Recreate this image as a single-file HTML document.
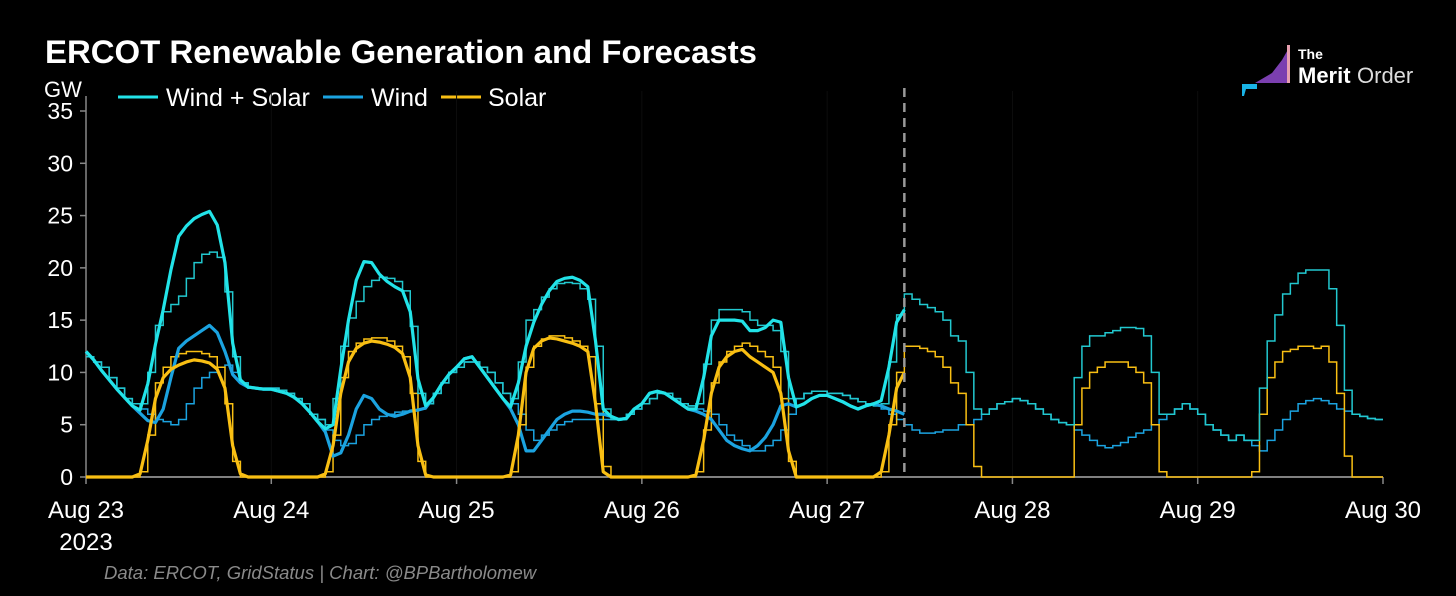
<!DOCTYPE html>
<html><head><meta charset="utf-8"><style>
html,body{margin:0;padding:0;background:#000;}
body{width:1456px;height:596px;overflow:hidden;font-family:"Liberation Sans",sans-serif;}
</style></head><body>
<svg id="chart" width="1456" height="596" xmlns="http://www.w3.org/2000/svg" style="display:block">
<rect width="1456" height="596" fill="#000"/>
<text x="45" y="63" fill="#fff" font-size="32" font-weight="bold" textLength="712" lengthAdjust="spacingAndGlyphs">ERCOT Renewable Generation and Forecasts</text>
<text x="44" y="97" fill="#fff" font-size="22">GW</text>
<g font-size="25" fill="#fff">
 <g><line x1="118" y1="97" x2="158" y2="97" stroke="#22e3e8" stroke-width="3"/><text x="166" y="106">Wind + Solar</text></g>
 <g><line x1="323" y1="97" x2="363" y2="97" stroke="#1ba3e0" stroke-width="3"/><text x="371" y="106">Wind</text></g>
 <g><line x1="441" y1="97" x2="481" y2="97" stroke="#f9bf13" stroke-width="3"/><text x="488" y="106">Solar</text></g>
</g>
<g>
 <polygon points="1255,83 1272,73 1282,60 1290,46 1290,83" fill="#7b3fb0"/>
 <rect x="1287" y="45" width="3" height="38" fill="#e8a0b0"/>
 <polygon points="1242,84 1257,84 1257,89 1246,89 1244,96 1242,96" fill="#19b3e6"/>
 <text x="1298" y="59" fill="#fff" font-size="14" font-weight="bold">The</text>
 <text x="1298" y="83" fill="#fff" font-size="22" font-weight="bold">Merit</text>
 <text x="1357" y="83" fill="#ddd" font-size="22">Order</text>
</g>
<g id="grid"></g>
<g id="axes"></g>
<g id="series"></g>
<text x="104" y="579" fill="#8a8a8a" font-size="18.5" font-style="italic">Data: ERCOT, GridStatus | Chart: @BPBartholomew</text>
</svg>
<script>
const dayLabels=["Aug 23","Aug 24","Aug 25","Aug 26","Aug 27","Aug 28","Aug 29","Aug 30"];
const yTicks=[0,5,10,15,20,25,30,35];
const nowHour=106;
const windActual=[
12,11.2,10.2,9.3,8.4,7.6,6.8,6.1,5.4,5.2,6.5,9.5,12.3,13,13.5,14,14.5,13.8,12,9.8,9,8.6,8.5,8.4,
8.4,8.2,8,7.6,7,6.2,5.3,4.3,2,2.3,4,6.5,7.8,7.5,6.5,6,5.8,6,6.3,6.4,6.6,7.6,8.8,9.8,
10.5,11.3,11.5,10.5,9.5,8.5,7.5,6.5,5,2.5,2.5,3.5,4.5,5.5,6,6.3,6.3,6.2,6,6,5.8,5.5,5.6,6.5,
7,8,8.2,8,7.5,7,6.5,6.3,6,5.5,4.5,3.5,3,2.7,2.5,3,3.8,5,6.8,7,6.7,7,7.5,7.8,
7.8,7.5,7.2,6.8,6.5,6.8,7,6.8,6.5,6.3,6];
const solarActual=[
0,0,0,0,0,0,0,0.3,3.5,7.5,9.5,10.3,10.7,11,11.2,11.1,10.9,10.3,8.5,3,0.3,0,0,0,
0,0,0,0,0,0,0,0.3,3,8,11,12.3,12.8,13,12.9,12.7,12.4,11.8,9.5,3,0.2,0,0,0,
0,0,0,0,0,0,0,0.2,4,10,12.3,13,13.3,13.2,13,12.8,12.5,12,7,0.5,0,0,0,0,
0,0,0,0,0,0,0,0.2,3.5,8,10.5,11.5,12,12.2,11.5,11,10.5,10,8,2.5,0,0,0,0,
0,0,0,0,0,0,0,0.5,4,8.5,10];
const windForecast=[
11.5,11,10.5,9.5,8.5,7.5,7,6.5,6,5.5,5.3,5,5.5,7,8.5,9.5,10,10.5,10.7,10,9,8.5,8.5,8.5,
8.5,8.3,8,7.5,7,6,5.5,4.5,3.5,3,3.2,4,5,5.5,5.8,6,6.2,6.3,6.4,6.5,7,8,9,10,
10.5,11,11,10.5,10,9,8,7,6,4.5,3.5,4,4.5,5,5.3,5.5,5.5,5.5,5.5,5.5,5.5,5.5,6,6.5,
7,7.5,8,8,7.5,7,6.8,6.5,6.3,6,5,4,3.5,3,2.5,2.5,3,3.5,4.5,6,7.5,8,8.2,8.2,
8,8,7.8,7.5,7.2,7,6.8,6.5,6,5.5,5,4.5,4.2,4.2,4.3,4.5,4.5,5,5,5.5,6,6.5,7,7.2,
7.5,7.3,7,6.5,6,5.5,5.2,5,4.5,4,3.5,3,2.8,3,3.3,3.8,4.2,4.5,5,5.5,6,6.5,7,6.5,
6,5,4.5,4,3.5,4,3.5,3,2.5,3.5,4.5,5.5,6.3,7,7.3,7.5,7.3,7,6.5,6.3,6,5.8,5.6,5.5];
const solarForecast=[
0,0,0,0,0,0,0,0.5,4,9,10.5,11.5,11.8,12,12,11.8,11.5,10.5,7,1.5,0,0,0,0,
0,0,0,0,0,0,0,0.5,4,9.5,12,12.8,13.2,13.3,13.3,13,12.5,11.5,8,1.5,0,0,0,0,
0,0,0,0,0,0,0,0.5,5,10.5,12.5,13.2,13.5,13.5,13.3,13,12.5,11.5,7,1,0,0,0,0,
0,0,0,0,0,0,0,0.5,4.5,9,11,12,12.5,12.8,12.5,12,11.5,10.5,7.5,1.5,0,0,0,0,
0,0,0,0,0,0,0,0.5,5,10,12.5,12.5,12.3,12,11.5,10.5,9,8,5,1,0,0,0,0,
0,0,0,0,0,0,0,0,5,8.5,10,10.5,11,11,11,10.5,10,9,5,0.5,0,0,0,0,
0,0,0,0,0,0,0,0.5,6,9.5,11,12,12.2,12.5,12.5,12.3,12.5,11,8,2,0,0,0,0];

const NS="http://www.w3.org/2000/svg";
const X0=86,X1=1383,Y0=477,Y1=111,HOURS=168,YMAX=35;
const xs=h=>X0+(X1-X0)*h/HOURS;
const ys=v=>Y0-(Y0-Y1)*v/YMAX;
function mk(tag,attrs,parent){const e=document.createElementNS(NS,tag);for(const k in attrs)e.setAttribute(k,attrs[k]);parent.appendChild(e);return e;}
const grid=document.getElementById('grid'),axes=document.getElementById('axes'),series=document.getElementById('series');
dayLabels.forEach((d,i)=>{
 const x=xs(i*24);
 if(i>0&&i<dayLabels.length-1){const g=mk('line',{x1:x,y1:Y1-20,x2:x,y2:Y0,stroke:'#0d0d0d','stroke-width':1},grid);
 
 }
 const t=mk('line',{x1:x,y1:Y0,x2:x,y2:Y0+7,stroke:'#888','stroke-width':1.5},axes);
 
 
 const l=mk('text',{x:x,y:518,fill:'#fff','font-size':24,'text-anchor':'middle'},axes);l.textContent=d;
 
 
});
const yr=mk('text',{x:86,y:550,fill:'#fff','font-size':24,'text-anchor':'middle'},axes);yr.textContent='2023';


yTicks.forEach(v=>{
 const y=ys(v);
 const t=mk('line',{x1:X0-6,y1:y,x2:X0,y2:y,stroke:'#888','stroke-width':1.5},axes);
 
 
 const l=mk('text',{x:X0-13,y:y+8,fill:'#fff','font-size':23,'text-anchor':'end'},axes);l.textContent=v;
 
 
});
const ya=mk('line',{x1:X0,y1:Y1-15,x2:X0,y2:Y0,stroke:'#888','stroke-width':1.5},axes);


const xa=mk('line',{x1:X0,y1:Y0,x2:X1,y2:Y0,stroke:'#aaa','stroke-width':1.5},axes);



function stepPath(arr){let d='';arr.forEach((v,i)=>{d+=(i?'L':'M')+xs(i)+','+ys(v)+'L'+xs(i+1)+','+ys(v);});return d;}
function linePath(arr){return arr.map((v,i)=>(i?'L':'M')+xs(i)+','+ys(v)).join('');}
const totalForecast=windForecast.map((w,i)=>w+solarForecast[i]);
const totalActual=windActual.map((w,i)=>w+solarActual[i]);
const s1=mk('path',{d:stepPath(windForecast),fill:'none',stroke:'#1ba3e0','stroke-width':1.5},series);


const s2=mk('path',{d:stepPath(solarForecast),fill:'none',stroke:'#f9bf13','stroke-width':1.5},series);


const s3=mk('path',{d:stepPath(totalForecast),fill:'none',stroke:'#22c8cf','stroke-width':1.5},series);


const a1=mk('path',{d:linePath(windActual),fill:'none',stroke:'#1ba3e0','stroke-width':3.2,'stroke-linejoin':'round'},series);


const a2=mk('path',{d:linePath(solarActual),fill:'none',stroke:'#f9bf13','stroke-width':3.2,'stroke-linejoin':'round'},series);


const a3=mk('path',{d:linePath(totalActual),fill:'none',stroke:'#22e3e8','stroke-width':3.2,'stroke-linejoin':'round'},series);


const nl=mk('line',{x1:xs(nowHour),y1:88,x2:xs(nowHour),y2:Y0,stroke:'#999','stroke-width':2.5,'stroke-dasharray':'9,6'},series);


</script>
</body></html>
